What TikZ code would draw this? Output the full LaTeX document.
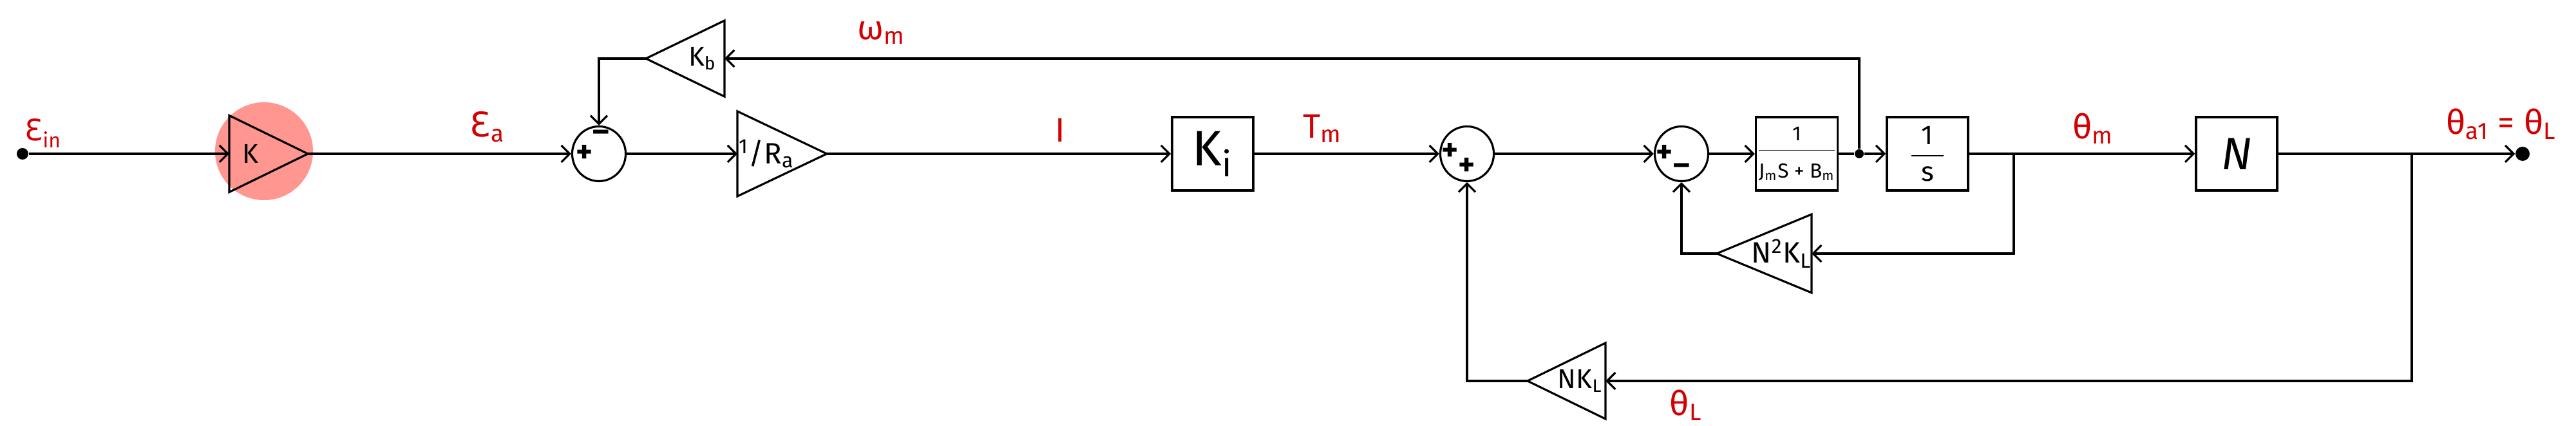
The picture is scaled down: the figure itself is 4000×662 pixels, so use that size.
\documentclass[tikz,border=0pt]{standalone}
\usepackage{fontspec}
\setmainfont{Fira Sans}
\newfontfamily\dvfont{DejaVu Sans}
\usepackage{amsmath}
\usetikzlibrary{arrows.meta,shapes.geometric,calc}
\definecolor{lblred}{RGB}{210,0,0}
\definecolor{hilite}{RGB}{255,150,144}
\tikzset{
 wire/.style={line width=0.9pt},
 arr/.style={wire,-{Straight Barb[length=1.3mm,width=2.6mm]}},
 blk/.style={draw,line width=1pt,rectangle,inner sep=0pt,minimum width=1.26cm,minimum height=1.14cm},
 tri/.style={draw,line width=0.9pt,isosceles triangle,isosceles triangle stretches,inner sep=0pt,outer sep=0pt,font=\fontsize{12}{14}\selectfont},
 trileft/.style={tri,shape border rotate=180},
 sumc/.style={draw,line width=0.9pt,ellipse,inner sep=0pt,minimum width=0.83cm,minimum height=0.85cm},
 sgn/.style={inner sep=0pt,font=\bfseries\fontsize{14}{15}\selectfont},
 lbl/.style={text=lblred,inner sep=0pt,font=\fontsize{15}{17}\selectfont},
 dotn/.style={circle,fill=black,inner sep=0pt},
}
\begin{document}
\begin{tikzpicture}[x=0.01cm,y=-0.01cm]
\useasboundingbox (0,0) rectangle (4000,662);
% highlight
\fill[hilite] (410,235) circle[radius=0.76cm];
% input / output dots
\node[dotn,minimum size=0.18cm] (in) at (35,239) {};
\node[dotn,minimum size=0.22cm] (out) at (3917,239) {};
% forward path
\node[tri,minimum width=1.19cm,minimum height=1.22cm,anchor=lower side] (K) at (356,239) {K};
\node[sumc] (s1) at (930,239) {};
\node[tri,minimum width=1.32cm,minimum height=1.26cm,anchor=lower side,font=\fontsize{13}{15}\selectfont] (Ra) at (1145,239) {\textsuperscript{1}/R\textsubscript{a}};
\node[blk,font=\fontsize{22}{24}\selectfont] (Ki) at (1883,239) {K\textsubscript{i}};
\node[sumc] (s2) at (2278,239) {};
\node[sumc] (s3) at (2611,239) {};
\node[blk,font=\fontsize{9}{10}\selectfont] (JB) at (2790,239) {$\dfrac{\text{1}\rule[-3pt]{0pt}{1pt}}{\rule{0pt}{11pt}\text{J\textsubscript{m}S + B\textsubscript{m}}}$};
\node[dotn,minimum size=0.14cm] (bd) at (2887,239) {};
\node[blk,font=\fontsize{12}{14}\selectfont] (S) at (2993,239) {\raisebox{3pt}{$\dfrac{\text{1}}{\makebox[14pt]{s}}$}};
\node[blk,font=\itshape\fontsize{20}{22}\selectfont] (N) at (3473,239) {N};
\coordinate (b1) at (3127,239);
\coordinate (b2) at (3745,239);
% feedback blocks
\node[trileft,minimum width=1.18cm,minimum height=1.22cm,anchor=lower side] (Kb) at (1125,91) {K\textsubscript{b}};
\node[trileft,minimum width=1.18cm,minimum height=1.22cm,anchor=lower side,font=\fontsize{13}{15}\selectfont] (N2) at (2813,394) {N\textsuperscript{2}K\textsubscript{L}};
\node[trileft,minimum width=1.18cm,minimum height=1.21cm,anchor=lower side] (NK) at (2493,592) {NK\textsubscript{L}};
% signs
\node[sgn] (s1a) at ($(s1)+(-22,0)$) {+};
\node[sgn] (s1b) at ($(s1)+(3,-28)$) {–};
\node[sgn] (s2a) at ($(s2)+(-26,-3)$) {+};
\node[sgn] (s2b) at ($(s2)+(0,20)$) {+};
\node[sgn] (s3a) at ($(s3)+(-26,0)$) {+};
\node[sgn] (s3b) at ($(s3)+(0,24)$) {–};
% connectors
\draw[arr] (in) -- (K.lower side);
\draw[arr] (K.apex) -- (s1.west);
\draw[arr] (s1.east) -- (Ra.lower side);
\draw[arr] (Ra.apex) -- (Ki.west);
\draw[arr] (Ki.east) -- (s2.west);
\draw[arr] (s2.east) -- (s3.west);
\draw[arr] (s3.east) -- (JB.west);
\draw[wire] (JB.east) -- (bd);
\draw[arr] (bd) -- (S.west);
\draw[arr] (S.east) -- (N.west);
\draw[arr] (N.east) -- (out);
\draw[arr] (bd) |- (Kb.lower side);
\draw[arr] (Kb.apex) -| (s1.north);
\draw[arr] (b1) |- (N2.lower side);
\draw[arr] (N2.apex) -| (s3.south);
\draw[arr] (b2) |- (NK.lower side);
\draw[arr] (NK.apex) -| (s2.south);
% labels
\node[lbl,font=\fontsize{13}{15}\selectfont] (lEin) at (67,207) {{\dvfont Ɛ}\textsubscript{in}};
\node[lbl] (lEa) at (757,197) {{\dvfont Ɛ}\textsubscript{a}};
\node[lbl] (lwm) at (1369,51) {ω\textsubscript{m}};
\node[lbl] (lI) at (1646,202) {I};
\node[lbl] (lTm) at (2054,200) {T\textsubscript{m}};
\node[lbl] (lthm) at (3250,200) {θ\textsubscript{m}};
\node[lbl] (lout) at (3884,193) {θ\textsubscript{a1} = θ\textsubscript{L}};
\node[lbl] (lthL) at (2618,630) {θ\textsubscript{L}};
\end{tikzpicture}
\end{document}
